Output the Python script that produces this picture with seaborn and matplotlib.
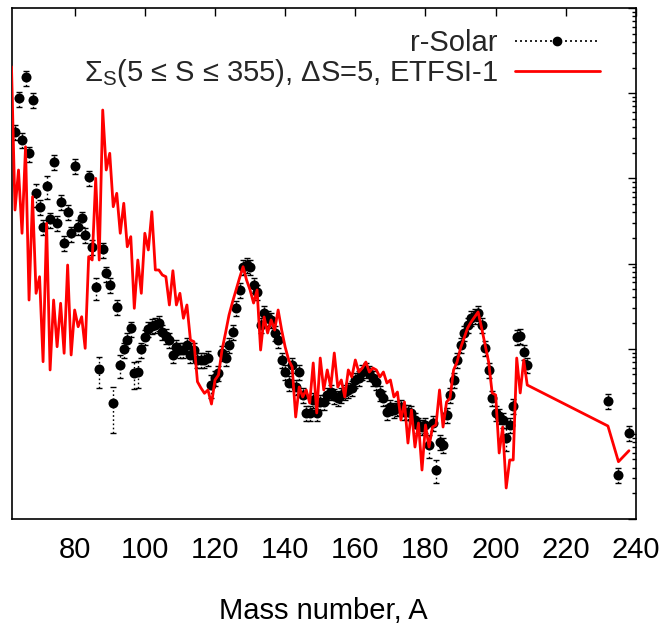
import numpy as np
import pandas as pd
import matplotlib
matplotlib.use("Agg")
import matplotlib.pyplot as plt
import seaborn as sns
from matplotlib.lines import Line2D
from matplotlib.ticker import LogLocator, NullFormatter

# ---------------- data ----------------
# r-process solar abundances, log10 scale
solar_A = list(range(63, 210)) + [232, 235, 238]
solar_log10 = [
    1.547, 1.940, 1.450, 2.186, 1.294, 1.920, 0.824, 0.667, 0.432, 0.910,   # 63-72
    0.519, 1.195, 0.479, 0.726, 0.244, 0.608, 0.355, 1.145, 0.432, 0.531,   # 73-82
    0.335, 1.012, 0.197, -0.279, -1.242, 0.167, -0.115, -0.252, -1.641, -0.507,  # 83-92
    -1.192, -1.007, -0.898, -0.761, -1.289, -1.270, -1.007, -0.859, -0.769, -0.734,  # 93-102
    -0.722, -0.699, -0.804, -0.851, -0.898, -1.074, -0.980, -1.016, -1.016, -0.957,  # 103-112
    -1.074, -1.016, -1.133, -1.133, -1.133, -1.110, -1.427, -1.344, -1.286, -1.051,  # 113-122
    -1.110, -0.957, -0.804, -0.522, -0.311, -0.041, -0.018, -0.041, -0.252, -0.335,  # 123-132
    -0.722, -0.581, -0.640, -0.663, -0.816, -0.898, -1.133, -1.274, -1.403, -1.192,  # 133-142
    -1.450, -1.274, -1.544, -1.755, -1.755, -1.603, -1.755, -1.626, -1.626, -1.544,  # 143-152
    -1.509, -1.556, -1.579, -1.544, -1.509, -1.485, -1.462, -1.368, -1.344, -1.274,  # 153-162
    -1.250, -1.286, -1.344, -1.391, -1.520, -1.579, -1.744, -1.685, -1.720, -1.697,  # 163-172
    -1.685, -1.744, -1.744, -1.755, -1.838, -1.896, -1.920, -1.896, -2.131, -1.873,  # 173-182
    -2.425, -2.096, -2.131, -1.779, -1.544, -1.368, -1.133, -0.957, -0.816, -0.722,  # 183-192
    -0.640, -0.616, -0.581, -0.722, -0.992, -1.250, -1.579, -1.755, -1.791, -1.838,  # 193-202
    -2.049, -1.896, -1.673, -0.863, -0.851, -1.039, -1.192,                          # 203-209
    -1.614, -2.483, -1.987,                                                          # 232, 235, 238
]
# relative errors (default read ~20 %, larger where the bars are long)
solar_rel_err_default = 0.2
solar_rel_err_special = {69: 0.3, 72: 0.3, 86: 0.3, 87: 0.4, 91: 0.55, 93: 0.3,
                         97: 0.35, 98: 0.35, 119: 0.3, 181: 0.3, 183: 0.3, 203: 0.3}

# summed ETFSI-1 calculation, log10 scale
model_A = list(range(62, 210)) + [232, 235, 238]
model_log10 = [
    2.311, 0.628, 1.098, 0.355, 1.371, -0.429, 0.784, -0.350, -0.155, -1.153,  # 62-71
    0.472, -1.250, -0.429, -0.977, -0.467, -1.054, -0.018, -1.074, -0.546, -0.742,  # 72-81
    -0.625, -0.996, 0.080, 0.041, 1.000, 0.041, 1.802, 1.098, 1.294, 0.667,  # 82-91
    0.824, 0.355, 0.707, 0.197, 0.315, -0.526, 0.041, -0.350, 0.355, 0.159,  # 92-101
    0.608, -0.076, -0.076, -0.135, -0.155, -0.487, -0.085, -0.487, -0.350, -0.643,  # 102-111
    -0.487, -0.898, -0.918, -1.388, -1.462, -1.524, -1.485, -1.650, -1.368, -1.309,  # 112-121
    -1.016, -0.816, -0.605, -0.452, -0.311, -0.170, -0.038, -0.194, -0.311, -0.464,  # 122-131
    -0.311, -1.016, -0.628, -0.816, -0.663, -0.781, -0.546, -0.781, -0.980, -1.133,  # 132-141
    -1.215, -1.802, -1.450, -1.567, -1.485, -1.638, -1.168, -1.755, -1.110, -1.485,  # 142-151
    -1.250, -1.450, -1.051, -1.450, -1.368, -1.567, -1.250, -1.333, -1.133, -1.274,  # 152-161
    -1.227, -1.157, -1.274, -1.227, -1.250, -1.333, -1.274, -1.403, -1.368, -1.567,  # 162-171
    -1.509, -1.838, -1.626, -2.108, -1.720, -2.155, -1.873, -2.425, -1.896, -2.155,  # 172-181
    -1.920, -1.896, -1.485, -1.920, -1.626, -1.579, -1.250, -1.157, -0.992, -0.875,  # 182-191
    -0.757, -0.687, -0.628, -0.569, -0.757, -0.957, -1.157, -1.520, -1.544, -2.225,  # 192-201
    -1.920, -2.636, -2.307, -2.307, -1.110, -1.520, -1.133, -1.427,                  # 202-209
    -1.908, -2.327, -2.198,                                                          # 232, 235, 238
]

x_ticks = [80, 100, 120, 140, 160, 180, 200, 220, 240]
x_label = "Mass number, A"
legend_solar = "r-Solar"
legend_model = r"$\Sigma_\mathrm{S}$(5 ≤ S ≤ 355), ΔS=5, ETFSI-1"

# ---------------- build tables ----------------
solar = pd.DataFrame({"A": solar_A, "Y": 10.0 ** np.array(solar_log10)})
solar["rel"] = [solar_rel_err_special.get(a, solar_rel_err_default) for a in solar_A]
model = pd.DataFrame({"A": model_A, "Y": 10.0 ** np.array(model_log10)})

# ---------------- style ----------------
sns.set_theme(style="white")
plt.rcParams["font.family"] = ["Liberation Sans", "DejaVu Sans"]
plt.rcParams["mathtext.fontset"] = "custom"
plt.rcParams["mathtext.rm"] = "Liberation Sans"
plt.rcParams["mathtext.it"] = "Liberation Sans:italic"
plt.rcParams["mathtext.bf"] = "Liberation Sans:bold"

fig = plt.figure(figsize=(6.68, 6.28), dpi=100)
ax = fig.add_axes([11.5 / 668, 1 - 519 / 628, (636 - 11.5) / 668, (519 - 8) / 628])

# error bars (dotted, gnuplot-like)
eb = ax.errorbar(solar["A"], solar["Y"], yerr=solar["Y"] * solar["rel"], fmt="none",
                 ecolor="black", elinewidth=1.0, capsize=2.5, capthick=1.0, zorder=2)
for lc in eb[2]:
    lc.set_linestyle((0, (1.2, 1.8)))

sns.scatterplot(data=solar, x="A", y="Y", color="black", s=52, linewidth=0,
                marker="o", ax=ax, zorder=3, legend=False)
sns.lineplot(data=model, x="A", y="Y", color="red", linewidth=2.0, sort=False,
             estimator=None, ax=ax, zorder=4, legend=False)

ax.set_yscale("log")
ax.set_ylim(1e-3, 1e3)
ax.set_xlim(62, 240)
ax.set_xticks(x_ticks)
ax.set_xticklabels([str(t) for t in x_ticks])
ax.yaxis.set_major_locator(LogLocator(base=10, numticks=20))
ax.yaxis.set_minor_locator(LogLocator(base=10, subs=np.arange(2, 10), numticks=20))
ax.yaxis.set_minor_formatter(NullFormatter())
ax.tick_params(axis="both", which="both", direction="in", top=True, right=True,
               labelleft=False, colors="black", labelsize=21, pad=12)
ax.tick_params(axis="both", which="major", length=6, width=1.0)
ax.tick_params(axis="both", which="minor", length=3, width=1.0)
ax.set_ylabel("")
ax.set_xlabel(x_label, fontsize=21, labelpad=24, color="black")
for s in ax.spines.values():
    s.set_color("black")
    s.set_linewidth(1.2)

h1 = Line2D([], [], color="black", ls=(0, (1.2, 1.8)), lw=1.2, marker="o", markersize=6)
h2 = Line2D([], [], color="red", lw=2.0)
ax.legend([h1, h2], [legend_solar, legend_model], loc="upper right",
          bbox_to_anchor=(0.942, 0.958), frameon=False, markerfirst=False,
          handlelength=2.9, handletextpad=0.6, fontsize=21, labelspacing=0.0,
          borderpad=0, borderaxespad=0, numpoints=1)

fig.savefig("out.png", dpi=100)
